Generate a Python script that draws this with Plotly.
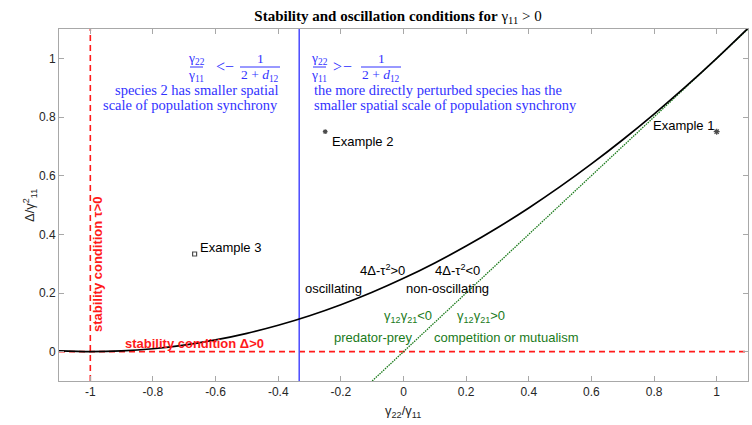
import plotly.graph_objects as go

# ---- data ----
curve_x = [-1.1, -1.0, -0.9, -0.8, -0.7, -0.6, -0.5, -0.4, -0.3, -0.2, -0.1, 0.0,
           0.1, 0.2, 0.3, 0.4, 0.5, 0.6, 0.7, 0.8, 0.9, 1.0, 1.1]
curve_y = [0.0025, 0.0, 0.0025, 0.01, 0.0225, 0.04, 0.0625, 0.09, 0.1225, 0.16, 0.2025, 0.25,
           0.3025, 0.36, 0.4225, 0.49, 0.5625, 0.64, 0.7225, 0.81, 0.9025, 1.0, 1.1025]
green_x = [-0.1, 1.1]
green_y = [-0.1, 1.1]
stab_v_x = [-1.0, -1.0]
stab_v_y = [-0.1, 1.1]
stab_h_x = [-1.1, 1.1]
stab_h_y = [0.0, 0.0]
blue_x = [-0.333, -0.333]
blue_y = [-0.1, 1.1]
ex_x = [1.0, -0.25, -0.667]
ex_y = [0.75, 0.75, 0.333]
ex_symbols = ["asterisk-open", "asterisk-open", "square-open"]
ex_sizes = [5, 4, 4]
x_ticks = [-1, -0.8, -0.6, -0.4, -0.2, 0, 0.2, 0.4, 0.6, 0.8, 1]
x_ticktext = ["-1", "-0.8", "-0.6", "-0.4", "-0.2", "0", "0.2", "0.4", "0.6", "0.8", "1"]
y_ticks = [0, 0.2, 0.4, 0.6, 0.8, 1]
y_ticktext = ["0", "0.2", "0.4", "0.6", "0.8", "1"]

W, H = 752, 425
ML, MR, MT, MB = 59, 4, 29, 44
PW, PH = W - ML - MR, H - MT - MB

def PX(px):
    return (px - ML) / PW

def PY(py):
    return (H - MB - py) / PH

RED = "#ff1a1a"
BLUE = "#3232ff"
GREEN = "#1a7a1a"
SANS = "Liberation Sans, Arial, sans-serif"
SERIF = "Liberation Serif, Times New Roman, serif"

fig = go.Figure()
fig.add_trace(go.Scatter(x=stab_h_x, y=stab_h_y, mode="lines",
                         line=dict(color=RED, width=1.6, dash="6px,4px"), hoverinfo="skip"))
fig.add_trace(go.Scatter(x=stab_v_x, y=stab_v_y, mode="lines",
                         line=dict(color=RED, width=1.6, dash="6px,4px"), hoverinfo="skip"))
fig.add_trace(go.Scatter(x=blue_x, y=blue_y, mode="lines",
                         line=dict(color="#4a4aff", width=1.5), hoverinfo="skip"))
fig.add_trace(go.Scatter(x=green_x, y=green_y, mode="lines",
                         line=dict(color=GREEN, width=1.3, dash="1.5px,1px"), hoverinfo="skip"))
fig.add_trace(go.Scatter(x=curve_x, y=curve_y, mode="lines", line_shape="spline",
                         line=dict(color="black", width=1.7), hoverinfo="skip"))
fig.add_trace(go.Scatter(x=ex_x, y=ex_y, mode="markers",
                         marker=dict(symbol=ex_symbols, size=ex_sizes, color="black",
                                     line=dict(color="black", width=1.2)), hoverinfo="skip"))

ann = []

def txt(text, px, py, xanchor="left", yanchor="middle", color="black", size=13,
        family=SANS, angle=0, align="left"):
    ann.append(dict(text=text, x=PX(px), y=PY(py), xref="paper", yref="paper",
                    xanchor=xanchor, yanchor=yanchor, showarrow=False, textangle=angle,
                    align=align, font=dict(color=color, size=size, family=family)))

# axis titles
txt("γ<sub>22</sub>/γ<sub>11</sub>", 403, 411, xanchor="center", color="#262626")
txt("Δ/γ<sup>2</sup><sub>11</sub>", 30, 206, xanchor="center", color="#262626", angle=-90)
# examples
txt("Example 1", 651, 126)
txt("Example 2", 330, 141)
txt("Example 3", 198, 247)
# oscillation
txt("4Δ-τ<sup>2</sup>&gt;0", 358, 270)
txt("oscillating", 303, 288)
txt("4Δ-τ<sup>2</sup>&lt;0", 433, 270)
txt("non-oscillating", 404, 288)
# green
txt("γ<sub>12</sub>γ<sub>21</sub>&lt;0", 382, 316, color=GREEN)
txt("γ<sub>12</sub>γ<sub>21</sub>&gt;0", 455, 316, color=GREEN)
txt("predator-prey", 332, 337, color=GREEN)
txt("competition or mutualism", 432, 337, color=GREEN)
# red
txt("<b>stability condition Δ&gt;0</b>", 194, 343, xanchor="center", color=RED)
txt("<b>stability condition τ&gt;0</b>", 97, 265, xanchor="center", color=RED, angle=-90)

# blue blocks
BS = 14.5
FS = 13.5
txt("species 2 has smaller spatial", 280, 89.5, xanchor="right", color=BLUE, family=SERIF, size=BS)
txt("scale of population synchrony", 280, 104.5, xanchor="right", color=BLUE, family=SERIF, size=BS)
txt("the more directly perturbed species has the", 312, 89.5, color=BLUE, family=SERIF, size=BS)
txt("smaller spatial scale of population synchrony", 312, 104.5, color=BLUE, family=SERIF, size=BS)

shapes = []

def frac(num, den, cx, x0, x1):
    txt(num, cx, 58, xanchor="center", color=BLUE, family=SERIF, size=FS)
    txt(den, cx, 75, xanchor="center", color=BLUE, family=SERIF, size=FS)
    shapes.append(dict(type="line", xref="paper", yref="paper", x0=PX(x0), x1=PX(x1),
                       y0=PY(67), y1=PY(67), line=dict(color=BLUE, width=1)))

frac("γ<sub>22</sub>", "γ<sub>11</sub>", 196, 190, 203)
txt("&lt;", 220, 67, xanchor="center", color=BLUE, family=SERIF, size=16)
txt("−", 229, 67, xanchor="center", color=BLUE, family=SERIF, size=16)
frac("1", "2 + <i>d</i><sub>12</sub>", 260, 240, 280)

frac("γ<sub>22</sub>", "γ<sub>11</sub>", 319, 313, 326)
txt("&gt;", 337, 67, xanchor="center", color=BLUE, family=SERIF, size=16)
txt("−", 347, 67, xanchor="center", color=BLUE, family=SERIF, size=16)
frac("1", "2 + <i>d</i><sub>12</sub>", 381, 361, 401)

AX = "#a8a8a8"
fig.update_layout(
    width=W, height=H, margin=dict(l=ML, r=MR, t=MT, b=MB, autoexpand=False),
    paper_bgcolor="white", plot_bgcolor="white", showlegend=False,
    title=dict(text="<b>Stability and oscillation conditions for</b> γ<sub>11</sub> &gt; 0",
               xref="container", x=398 / W, xanchor="center", y=1 - 16 / H, yanchor="middle",
               font=dict(family=SERIF, size=15, color="black")),
    xaxis=dict(range=[-1.1, 1.1], tickvals=x_ticks, ticktext=x_ticktext, automargin=False,
               showgrid=False, zeroline=False, showline=True, linecolor=AX, linewidth=1,
               mirror="ticks", ticks="inside", ticklen=5, tickcolor=AX,
               tickfont=dict(family=SANS, size=12, color="#262626")),
    yaxis=dict(range=[-0.1, 1.1], tickvals=y_ticks, ticktext=y_ticktext, automargin=False,
               showgrid=False, zeroline=False, showline=True, linecolor=AX, linewidth=1,
               mirror="ticks", ticks="inside", ticklen=5, tickcolor=AX,
               tickfont=dict(family=SANS, size=12, color="#262626")),
    annotations=ann, shapes=shapes,
)

fig.write_html("out.html", config={"displayModeBar": False},
               post_script="document.body.style.margin='0px';")
